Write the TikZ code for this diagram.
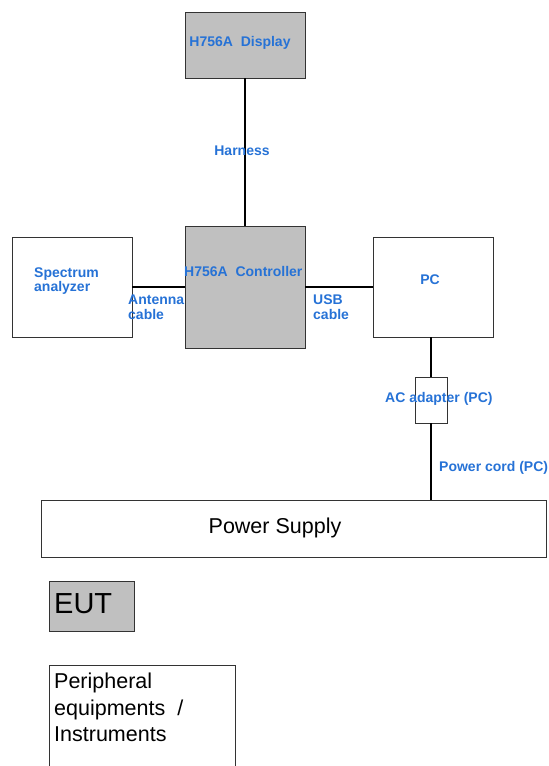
\documentclass[tikz,border=0pt]{standalone}
\usepackage{fontspec}
\setmainfont{Liberation Sans}
\definecolor{labelblue}{RGB}{38,114,214}
\definecolor{boxgray}{RGB}{192,192,192}
\begin{document}
\begin{tikzpicture}[x=1pt,y=-1pt,
		gray node/.style = {rectangle,draw=black!80,fill=boxgray,line width=0.9pt,inner sep=0pt},
		white node/.style = {rectangle,draw=black!80,fill=white,line width=0.9pt,inner sep=0pt},
		blue label/.style = {text=labelblue,font=\fontsize{14}{14.5}\selectfont\bfseries,inner sep=0pt,align=left},
		black label/.style = {text=black,font=\fontsize{21.5}{26.5}\selectfont,inner sep=0pt,align=left},
		cable/.style = {line width=2.4pt}]
	\useasboundingbox (0,0) rectangle (549,766);

	% boxes
	\node[gray node,minimum width=120,minimum height=66] (1) at (245,45) {};
	\node[gray node,minimum width=120,minimum height=122] (2) at (245,287) {};
	\node[white node,minimum width=120,minimum height=100] (3) at (72,287) {};
	\node[white node,minimum width=120,minimum height=100] (4) at (433,287) {};
	\node[white node,minimum width=32,minimum height=46] (5) at (431,400) {};
	\node[white node,minimum width=505,minimum height=57] (6) at (293.5,528.5) {};
	\node[gray node,minimum width=85,minimum height=50] (7) at (91.5,606) {};
	\node[white node,minimum width=186,minimum height=115] (8) at (142,722.5) {};

	% cables
	\draw[cable] (1)--(2);
	\draw[cable] (3)--(2)--(4);
	\draw[cable] (4.south -| 5)--(5)--(6.north -| 5);

	% texts
	\node[blue label] (a) at (240,43) {H756A\ \ Display};
	\node[blue label] (b) at (242,151) {Harness};
	\node[blue label,anchor=west] (c) at (184,271) {H756A\ \ Controller};
	\node[blue label,anchor=west] (d) at (34,281) {Spectrum\\analyzer};
	\node[blue label,anchor=west] (e) at (128,307) {Antenna\\cable};
	\node[blue label,anchor=west] (f) at (313,307) {USB\\cable};
	\node[blue label] (g) at (430,280) {PC};
	\node[blue label,anchor=west] (h) at (385,399) {AC adapter (PC)};
	\node[blue label,anchor=west] (i) at (439,468) {Power cord (PC)};
	\node[black label] (j) at (275,528) {Power Supply};
	\node[black label,anchor=west,font=\fontsize{29}{30}\selectfont] (k) at (54,604) {EUT};
	\node[black label,anchor=north west] (l) at (54,673) {Peripheral\\equipments\ \ /\\Instruments};
\end{tikzpicture}
\end{document}
